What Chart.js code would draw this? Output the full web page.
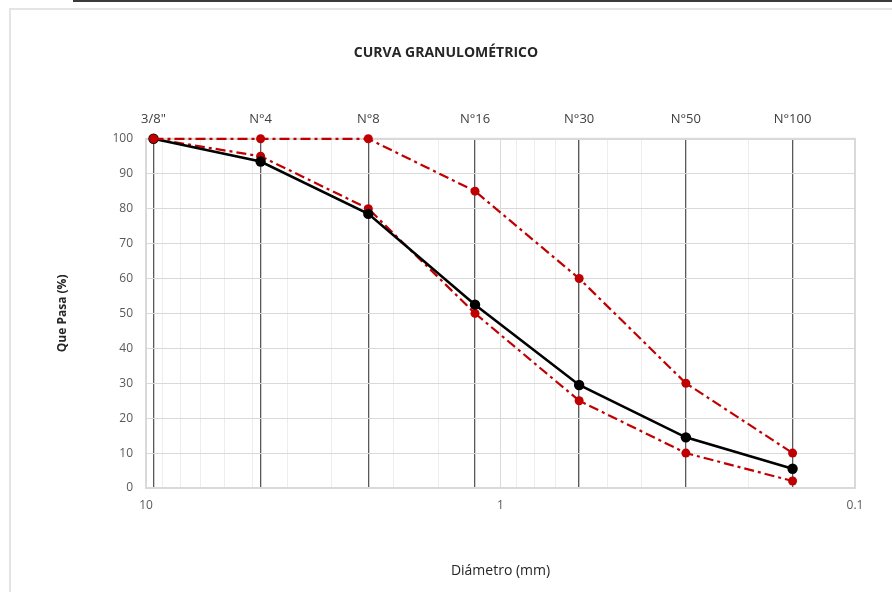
<!DOCTYPE html>
<html>
<head>
<meta charset="utf-8">
<script src="https://cdn.jsdelivr.net/npm/chart.js@4/dist/chart.umd.min.js"></script>
<style>
  html, body { margin: 0; padding: 0; background: #fff; }
  #wrap { position: relative; width: 892px; height: 592px; overflow: hidden; }
  #topLine { position: absolute; left: 73px; top: 0; right: 0; height: 2px; background: #3a3a3a; }
  #frame { position: absolute; left: 9px; top: 8px; width: 900px; height: 600px;
           border-left: 2px solid #e4e4e4; border-top: 2px solid #e4e4e4; }
  canvas { position: absolute; left: 0; top: 0; }
</style>
</head>
<body>
<div id="wrap">
  <div id="topLine"></div>
  <div id="frame"></div>
  <canvas id="granChart" width="892" height="592"></canvas>
</div>
<script>
// tamices y aberturas (mm)
const sieveNames = ['3/8"', "N°4", "N°8", "N°16", "N°30", "N°50", "N°100"];
const sieveSizes = [9.525, 4.75, 2.36, 1.18, 0.6, 0.3, 0.15];

// % que pasa
const pasaMuestra = [100, 93.5, 78.5, 52.5, 29.5, 14.5, 5.5];
const limiteSuperior = [100, 100, 100, 85, 60, 30, 10];
const limiteInferior = [100, 95, 80, 50, 25, 10, 2];

const FONT = "'Open Sans', 'DejaVu Sans', sans-serif";
const RED = "#C00000";

function toPoints(values) {
  return sieveSizes.map((d, i) => ({ x: d, y: values[i] }));
}

function isDecade(v) {
  const l = Math.log10(v);
  return Math.abs(l - Math.round(l)) < 1e-9;
}

// marco del area de trazado (lado derecho incluido)
const plotFrame = {
  id: "plotFrame",
  beforeDatasetsDraw(chart) {
    const { ctx, chartArea } = chart;
    ctx.save();
    ctx.strokeStyle = "#d9d9d9";
    ctx.lineWidth = 2;
    ctx.strokeRect(chartArea.left, chartArea.top, chartArea.right - chartArea.left, chartArea.bottom - chartArea.top);
    ctx.restore();
  },
};

const ctx = document.getElementById("granChart").getContext("2d");

new Chart(ctx, {
  type: "line",
  data: {
    datasets: [
      {
        label: "Límite superior",
        data: toPoints(limiteSuperior),
        borderColor: RED,
        backgroundColor: RED,
        borderWidth: 2.2,
        borderDash: [10, 4, 3, 4],
        pointRadius: 4.5,
        pointBorderWidth: 0,
        clip: false,
      },
      {
        label: "Muestra",
        data: toPoints(pasaMuestra),
        borderColor: "#000",
        backgroundColor: "#000",
        borderWidth: 2.6,
        pointRadius: 5.2,
        pointBorderWidth: 0,
        clip: false,
      },
      {
        label: "Límite inferior",
        data: toPoints(limiteInferior),
        borderColor: RED,
        backgroundColor: RED,
        borderWidth: 2.2,
        borderDash: [10, 4, 3, 4],
        pointRadius: 4.5,
        pointBorderWidth: 0,
        clip: false,
      },
    ],
  },
  options: {
    responsive: false,
    animation: false,
    devicePixelRatio: 1,
    layout: { padding: { left: 0, right: 0, top: 0, bottom: 0 } },
    plugins: {
      legend: { display: false },
      tooltip: { enabled: false },
      title: {
        display: true,
        text: "CURVA GRANULOMÉTRICO",
        color: "#262626",
        font: { family: FONT, size: 14, weight: "bold" },
        padding: { top: 45, bottom: 10 },
      },
    },
    scales: {
      x: {
        type: "logarithmic",
        position: "bottom",
        min: 0.1,
        max: 10,
        reverse: true,
        afterFit: (s) => { s.height = 104; },
        ticks: {
          autoSkip: false,
          maxRotation: 0,
          padding: 10,
          color: "#595959",
          font: { family: FONT, size: 12 },
          callback: (v) => (isDecade(v) ? String(v) : ""),
        },
        grid: {
          drawTicks: false,
          color: (c) => (c.tick && isDecade(c.tick.value) ? "#d9d9d9" : "#ededed"),
          lineWidth: 1,
        },
        border: { color: "#d9d9d9", width: 2 },
        title: {
          display: true,
          text: "Diámetro (mm)",
          color: "#262626",
          font: { family: FONT, size: 14 },
          padding: { top: 0, bottom: 13 },
        },
      },
      tamiz: {
        type: "logarithmic",
        position: "top",
        min: 0.1,
        max: 10,
        reverse: true,
        afterBuildTicks: (s) => { s.ticks = sieveSizes.map((v) => ({ value: v })); },
        afterFit: (s) => { s.height = 67; },
        ticks: {
          autoSkip: false,
          maxRotation: 0,
          padding: 12,
          color: "#404040",
          font: { family: FONT, size: 13 },
          callback: (v, i) => sieveNames[i],
        },
        grid: { drawTicks: false, color: "#595959", lineWidth: 1.3 },
        border: { color: "#d9d9d9", width: 2 },
      },
      y: {
        min: 0,
        max: 100,
        afterFit: (s) => { s.width = 146; },
        ticks: {
          stepSize: 10,
          padding: 13,
          color: "#595959",
          font: { family: FONT, size: 12 },
        },
        grid: { drawTicks: false, color: "#d9d9d9", lineWidth: 1 },
        border: { color: "#d9d9d9", width: 2 },
        title: {
          display: true,
          text: "Que Pasa (%)",
          color: "#262626",
          font: { family: FONT, size: 12, weight: "bold" },
          padding: { top: 55, bottom: 0 },
        },
      },
      // eje derecho vacio: solo reserva el margen derecho
      margenDerecho: {
        position: "right",
        min: 0,
        max: 100,
        afterFit: (s) => { s.width = 37; },
        ticks: { display: false },
        grid: { display: false, drawTicks: false },
        border: { display: false },
      },
    },
  },
  plugins: [plotFrame],
});
</script>
</body>
</html>
